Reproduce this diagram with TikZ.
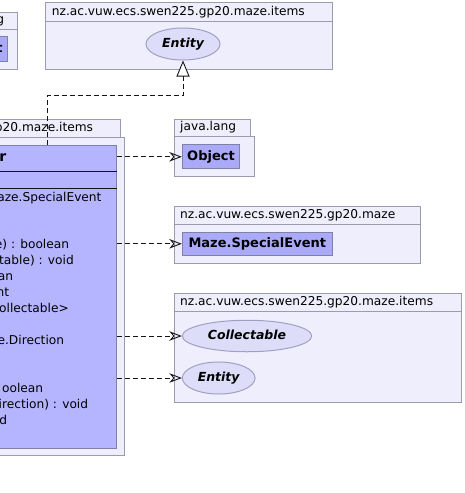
\documentclass[tikz,border=0pt]{standalone}
\usepackage{fontspec}
\setmainfont{DejaVu Sans}
\usetikzlibrary{arrows.meta,shapes.geometric}
\definecolor{pkgfill}{RGB}{238,238,252}
\definecolor{pkgline}{RGB}{155,155,175}
\definecolor{clsfill}{RGB}{181,181,255}
\definecolor{clsfillb}{RGB}{170,170,248}
\definecolor{clsline}{RGB}{128,128,172}
\definecolor{elfill}{RGB}{221,221,250}
\definecolor{elline}{RGB}{160,160,194}
\definecolor{ink}{RGB}{20,20,20}
\tikzset{
  pkg/.style={draw=pkgline, fill=pkgfill, line width=1pt},
  pkgname/.style={inner sep=0pt, text height=9pt, text depth=2.5pt, font=\fontsize{12.2}{14}\selectfont},
  clsbox/.style={draw=clsline, fill=clsfillb, line width=1pt, inner sep=0pt, text height=9pt, text depth=2.5pt, font=\fontsize{13}{15}\selectfont\bfseries},
  bigcls/.style={draw=clsline, fill=clsfill, line width=1pt, inner sep=0pt},
  iface/.style={ellipse, draw=elline, fill=elfill, line width=1pt, inner sep=0pt, text height=9pt, text depth=2.5pt, font=\fontsize{12.5}{14}\selectfont\bfseries\itshape},
  member/.style={inner sep=0pt, text height=9pt, text depth=2.5pt, font=\fontsize{12.2}{14}\selectfont},
  clsname/.style={inner sep=0pt, text height=10pt, text depth=2.5pt, font=\fontsize{14}{16}\selectfont\bfseries},
  sepline/.style={draw=ink, line width=1pt},
  dep/.style={draw=ink, line width=0.9pt, dash pattern=on 5pt off 3pt, -{Stealth[open, length=12.5pt, width=9.5pt, inset=4pt]}},
  gen/.style={draw=ink, line width=0.9pt, dash pattern=on 5pt off 3pt, -{Triangle[length=16pt, width=13pt, fill=white]}}
}
\begin{document}
\begin{tikzpicture}[x=1pt,y=-1pt]
\useasboundingbox (0,0) rectangle (464,493);
\clip (0,0) rectangle (464,493);
\fill[white] (0,0) rectangle (464,493);

% top-left package (cut off)
\draw[pkg] (-100,12) rectangle (17,69);
\draw[pkgline, line width=1pt] (-100,29) -- (17,29);
\node[pkgname, anchor=east] (pkgA) at (4.4,20.5) {g};
\node[clsbox, minimum width=107.7pt, minimum height=25pt, anchor=north east] (objA) at (7.7,36) {};
\node[clsname, anchor=east, font=\fontsize{13}{15}\selectfont\bfseries] (objAt) at (2.7,48.5) {t};

% top items package
\draw[pkg] (45,2) rectangle (332.3,69.5);
\draw[pkgline, line width=1pt] (45,21.7) -- (332.3,21.7);
\node[pkgname, anchor=west] (pkgB) at (51.7,11.8) {nz.ac.vuw.ecs.swen225.gp20.maze.items};
\node[iface, minimum width=74pt, minimum height=32pt] (ent1) at (183,44) {Entity};

% big left package
\draw[pkg] (-100,119.3) rectangle (120,137);
\draw[pkg] (-100,137) rectangle (124.3,455);
\node[pkgname, anchor=east] (pkgC) at (93.3,128) {p20.maze.items};
\node[bigcls, minimum width=267pt, minimum height=303pt, anchor=north east] (player) at (117,145) {};
\node[clsname, anchor=east] (pname) at (6.5,158) {r};
\draw[sepline] (-150,171.5) -- (117,171.5);
\draw[sepline] (-150,188) -- (117,188);
\node[member, anchor=east] (m1) at (101.7,198) {aze.SpecialEvent};
\node[member, anchor=east] (m2) at (69.3,245.5) {e) : boolean};
\node[member, anchor=east] (m3) at (74,261.5) {table) : void};
\node[member, anchor=east] (m4) at (13.3,277) {an};
\node[member, anchor=east] (m5) at (9.3,293) {nt};
\node[member, anchor=east] (m6) at (69,309) {ollectable>};
\node[member, anchor=east] (m7) at (64.3,341) {e.Direction};
\node[member, anchor=east] (m8) at (43.3,389) {oolean};
\node[member, anchor=east] (m9) at (88.3,405) {irection) : void};
\node[member, anchor=east] (m10) at (7.3,421) {d};

% java.lang package
\draw[pkg] (174.3,119.3) rectangle (250.7,136);
\draw[pkg] (174.3,136) rectangle (254.7,176);
\node[pkgname, anchor=west] (pkgD) at (180,127.7) {java.lang};
\node[clsbox, minimum width=57.4pt, minimum height=23.7pt] (obj) at (211,156.8) {Object};

% maze package
\draw[pkg] (174.3,206.7) rectangle (420.3,263.3);
\draw[pkgline, line width=1pt] (174.3,224.3) -- (420.3,224.3);
\node[pkgname, anchor=west] (pkgE) at (180,215.5) {nz.ac.vuw.ecs.swen225.gp20.maze};
\node[clsbox, minimum width=150pt, minimum height=23pt] (sev) at (257.3,243.8) {Maze.SpecialEvent};

% bottom items package
\draw[pkg] (174.3,293.3) rectangle (461.7,402.3);
\draw[pkgline, line width=1pt] (174.3,311) -- (461.7,311);
\node[pkgname, anchor=west] (pkgF) at (180,302) {nz.ac.vuw.ecs.swen225.gp20.maze.items};
\node[iface, minimum width=129.4pt, minimum height=31.5pt] (coll) at (247,336) {Collectable};
\node[iface, minimum width=72.7pt, minimum height=32pt] (ent2) at (218.7,378) {Entity};

% connectors
\coordinate (bend) at (47.5,95);
\draw[gen] (bend |- player.north) -- (bend) -| (ent1.south);
\draw[dep] (player.east |- obj.west) -- (obj.west);
\draw[dep] (player.east |- sev.west) -- (sev.west);
\draw[dep] (player.east |- coll.west) -- (coll.west);
\draw[dep] (player.east |- ent2.west) -- (ent2.west);
\end{tikzpicture}
\end{document}
